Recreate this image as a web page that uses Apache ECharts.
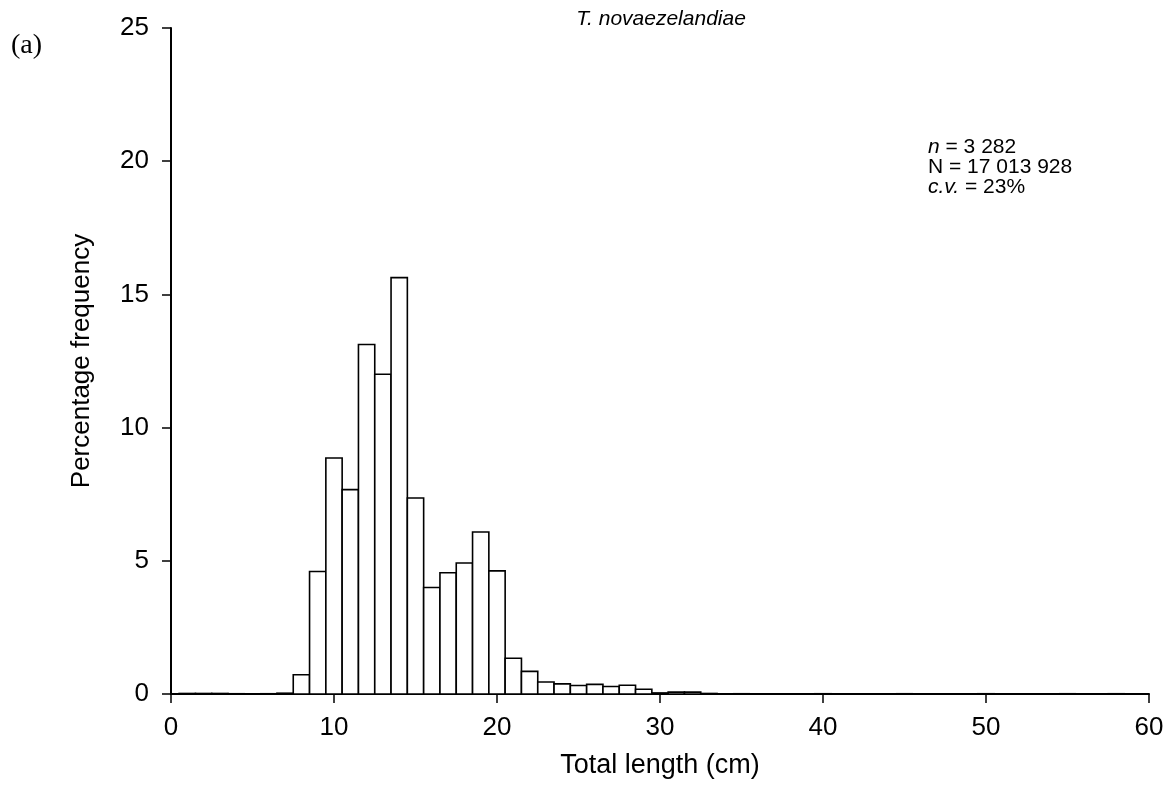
<!DOCTYPE html>
<html>
<head>
<meta charset="utf-8">
<script src="https://cdn.jsdelivr.net/npm/echarts@6/dist/echarts.min.js"></script>
<style>html,body{margin:0;padding:0;background:#fff}#c{width:1168px;height:790px}</style>
</head>
<body>
<div id="c"></div>
<script>
// Total length (cm) classes and percentage frequency
var lengths = [1, 2, 3, 4, 6, 7, 8, 9, 10, 11, 12, 13, 14, 15, 16, 17, 18, 19, 20, 21, 22, 23, 24, 25, 26, 27, 28, 29, 30, 31, 32, 33, 35, 40, 45, 50, 55, 58];
var percents = [0.02, 0.02, 0.02, 0.01, 0.01, 0.03, 0.72, 4.6, 8.86, 7.67, 13.12, 12.0, 15.63, 7.36, 4.0, 4.55, 4.92, 6.08, 4.62, 1.34, 0.85, 0.45, 0.38, 0.32, 0.36, 0.28, 0.33, 0.18, 0.04, 0.07, 0.07, 0.02, 0.01, 0.01, 0.01, 0.01, 0.01, 0.01];
var xTicks = [0, 10, 20, 30, 40, 50, 60];
var yTicks = [0, 5, 10, 15, 20, 25];
var titleText = 'T. novaezelandiae';
var statsLines = ['{i|n} = 3 282', 'N = 17 013 928', '{i|c.v.} = 23%'];

var data = lengths.map(function (l, i) { return [l, percents[i]]; });
var font = '"Liberation Sans", Arial, sans-serif';

var chart = echarts.init(document.getElementById('c'));
chart.setOption({
  animation: false,
  backgroundColor: '#fff',
  grid: { left: 171, right: 19, top: 28, bottom: 96, containLabel: false },
  xAxis: {
    type: 'value', min: xTicks[0], max: xTicks[xTicks.length - 1], interval: 10,
    name: 'Total length (cm)', nameLocation: 'middle', nameGap: 58,
    nameTextStyle: { fontFamily: font, fontSize: 27, color: '#000' },
    axisLine: { show: true, lineStyle: { color: '#000', width: 2 } },
    axisTick: { show: true, inside: false, length: 9, lineStyle: { color: '#000', width: 1.5 } },
    axisLabel: { fontFamily: font, fontSize: 26, color: '#000', margin: 21 },
    splitLine: { show: false }
  },
  yAxis: {
    type: 'value', min: yTicks[0], max: yTicks[yTicks.length - 1], interval: 5,
    name: 'Percentage frequency', nameLocation: 'middle', nameGap: 76,
    nameTextStyle: { fontFamily: font, fontSize: 26, color: '#000' },
    axisLine: { show: true, lineStyle: { color: '#000', width: 2 } },
    axisTick: { show: true, inside: false, length: 9, lineStyle: { color: '#000', width: 1.5 } },
    axisLabel: { fontFamily: font, fontSize: 26, color: '#000', margin: 22 },
    splitLine: { show: false }
  },
  series: [{
    type: 'custom',
    data: data,
    encode: { x: 0, y: 1 },
    renderItem: function (params, api) {
      var x = api.value(0), y = api.value(1);
      var p1 = api.coord([x - 0.5, y]);
      var p2 = api.coord([x + 0.5, 0]);
      return {
        type: 'rect',
        shape: { x: p1[0], y: p1[1], width: p2[0] - p1[0], height: p2[1] - p1[1] },
        style: { fill: '#fff', stroke: '#000', lineWidth: 1.6 }
      };
    }
  }],
  graphic: [
    { type: 'text', left: 11, top: 32, style: { text: '(a)', font: '28px "Liberation Serif", "Times New Roman", serif', fill: '#000' } },
    { type: 'text', x: 661, y: 19, style: { text: titleText, font: 'italic 21px ' + font, fill: '#000', align: 'center', verticalAlign: 'middle' } },
    { type: 'text', x: 928, y: 137, style: {
        text: statsLines.join('\n'), fontFamily: font, fontSize: 21, lineHeight: 20, fill: '#000',
        rich: { i: { fontFamily: font, fontSize: 21, fontStyle: 'italic', lineHeight: 20, fill: '#000' } }
      } }
  ]
});
</script>
</body>
</html>
